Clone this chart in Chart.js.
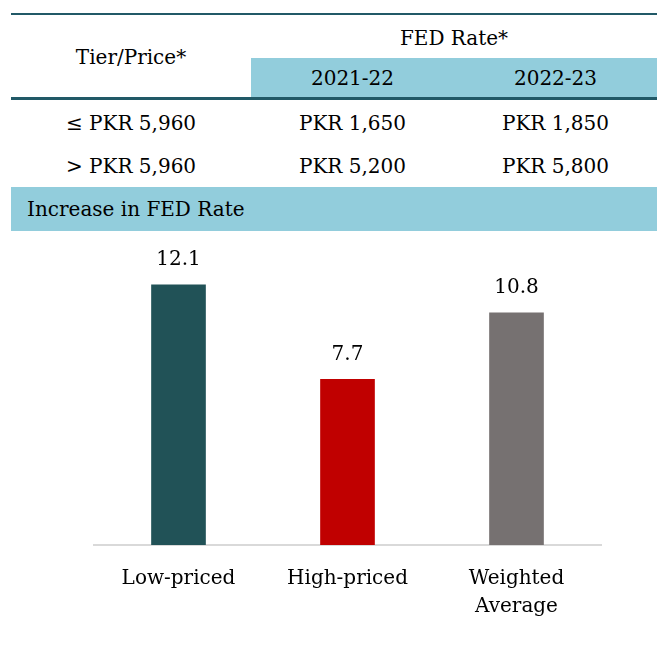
<!DOCTYPE html>
<html>
<head>
<meta charset="utf-8">
<script src="https://cdn.jsdelivr.net/npm/chart.js@4.4.1/dist/chart.umd.min.js"></script>
<style>
  body { margin: 0; width: 657px; height: 645px; background: #fff; position: relative; overflow: hidden;
         font-family: "DejaVu Serif", serif; color: #000; font-size: 20px; }
  .c { position: absolute; display: flex; align-items: center; justify-content: center; white-space: nowrap; }
  .rule { position: absolute; left: 11px; width: 646px; background: #215967; }
  .fill { background: #92cddc; }
  #wrap { position: absolute; left: 0; top: 231px; width: 657px; height: 414px; }
</style>
</head>
<body>
<div id="tbl"></div>
<div id="wrap"><canvas id="fed"></canvas></div>
<script>
// таблица
const headTier = 'Tier/Price*';
const headRate = 'FED Rate*';
const years = ['2021-22', '2022-23'];
const tiers = ['≤ PKR 5,960', '> PKR 5,960'];
const rate2122 = ['PKR 1,650', 'PKR 5,200'];
const rate2223 = ['PKR 1,850', 'PKR 5,800'];
const bandTitle = 'Increase in FED Rate';

// график
const categories = [['Low-priced'], ['High-priced'], ['Weighted', 'Average']];
const increase = [12.1, 7.7, 10.8];
const barColors = ['#215257', '#c00000', '#767171'];

// колонки: первая 240px, две по 203px
const colX = [11, 251, 454];
const colW = [240, 203, 203];
const rowTop = [100, 144];
const rowH = [46, 44];

function cell(text, x, y, w, h, cls = '', style = '') {
  return `<div class="c ${cls}" style="left:${x}px;top:${y}px;width:${w}px;height:${h}px;${style}">${text}</div>`;
}

let html = '';
html += `<div class="rule" style="top:13px;height:2px"></div>`;
html += cell(headTier, colX[0], 15, colW[0], 84);
html += cell(headRate, colX[1], 17, colW[1] + colW[2], 41);
html += cell('', colX[1], 58, colW[1] + colW[2], 39, 'fill');
years.forEach((y, i) => { html += cell(y, colX[i + 1], 58, colW[i + 1], 39); });
html += `<div class="rule" style="top:97px;height:3px"></div>`;
tiers.forEach((t, i) => {
  html += cell(t, colX[0], rowTop[i], colW[0], rowH[i]);
  html += cell(rate2122[i], colX[1], rowTop[i], colW[1], rowH[i]);
  html += cell(rate2223[i], colX[2], rowTop[i], colW[2], rowH[i]);
});
html += cell(bandTitle, 11, 187, 646, 44, 'fill', 'justify-content:flex-start;padding-left:16px;box-sizing:border-box');
document.getElementById('tbl').innerHTML = html;

const valueLabels = {
  id: 'valueLabels',
  afterDatasetsDraw(chart) {
    const ctx = chart.ctx;
    const meta = chart.getDatasetMeta(0);
    ctx.save();
    ctx.font = '20px "DejaVu Serif"';
    ctx.fillStyle = '#000';
    ctx.textAlign = 'center';
    ctx.textBaseline = 'middle';
    meta.data.forEach((bar, i) => {
      ctx.fillText(increase[i].toFixed(1), bar.x, bar.y - 25);
    });
    ctx.restore();
  },
};

new Chart(document.getElementById('fed'), {
  type: 'bar',
  data: {
    labels: categories,
    datasets: [{ data: increase, backgroundColor: barColors, barThickness: 54 }],
  },
  options: {
    responsive: true, maintainAspectRatio: false, animation: false,
    layout: { padding: { left: 94, right: 56, top: 13, bottom: 0 } },
    plugins: { legend: { display: false }, tooltip: { enabled: false } },
    scales: {
      y: { display: false, min: 0, max: 14 },
      x: {
        grid: { display: false },
        border: { display: true, color: '#d9d9d9', width: 2 },
        ticks: { color: '#000', padding: 12, font: { family: 'DejaVu Serif', size: 20, lineHeight: 1.4 } },
        afterFit(scale) { scale.height = 100; },
      },
    },
  },
  plugins: [valueLabels],
});
</script>
</body>
</html>
